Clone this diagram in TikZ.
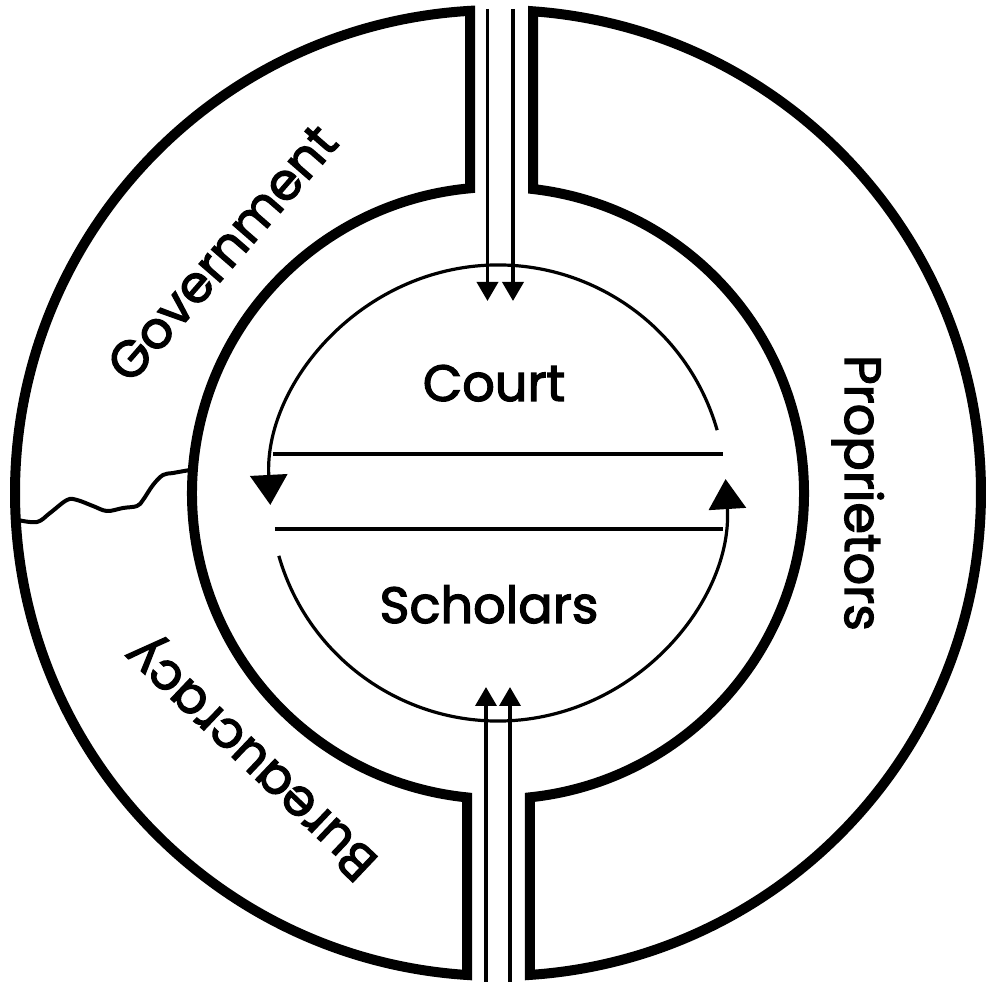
\documentclass[tikz,border=0pt]{standalone}
\usepackage{fontspec}
\setmainfont{Poppins}[FakeBold=2.5]
\usetikzlibrary{arrows.meta}
\begin{document}
\begin{tikzpicture}[x=1pt,y=1pt,
  ring/.style={line width=10pt, line join=miter},
  thinarc/.style={line width=3.2pt},
  flow/.style={line width=3.6pt},
  bighead/.style={-{Triangle[width=37pt,length=30pt]}},
  smallhead/.style={-{Triangle[width=21pt,length=19pt]}},
  lab/.style={font=\fontsize{51}{58}\selectfont, inner sep=0pt}]
\useasboundingbox (-498,-489) rectangle (488,493);
% outer C-shaped regions
\draw[ring] (93.32:483) arc[start angle=93.32, end angle=266.32, radius=483]
  -- (264.19:306) arc[start angle=264.19, end angle=95.25, radius=306] -- cycle;
\draw[ring] (85.84:483) arc[start angle=85.84, end angle=-86.2, radius=483]
  -- (-84:306) arc[start angle=-84, end angle=83.43, radius=306] -- cycle;
% wavy divider
\draw[line width=4pt, line cap=round] plot[smooth, tension=0.6] coordinates {
  (-480,-27) (-461,-29) (-448,-20) (-431,-7) (-421,-7) (-405,-13) (-391,-18)
  (-375,-15) (-361,-13) (-355,-7) (-345,8) (-335,18) (-325,20) (-308,23)};
% inner cycle
\coordinate (ua) at (16:228);
\coordinate (la) at (196:228);
\coordinate (ur) at (225,39);
\coordinate (ul) at (-224.6,39);
\coordinate (ll) at (-223,-36);
\coordinate (lr) at (225.1,-36);
\draw[thinarc, bighead] (ua) arc[start angle=16, end angle=183, radius=228];
\draw[thinarc, bighead] (la) arc[start angle=196, end angle=363.5, radius=228];
\draw[flow] (ur) -- (ul);
\draw[flow] (ll) -- (lr);
% vertical flows
\coordinate (t1s) at (-10.5,484); \coordinate (t1e) at (-10.5,192);
\coordinate (t2s) at (15,484);    \coordinate (t2e) at (15,192);
\coordinate (b1s) at (-12,-489);  \coordinate (b1e) at (-12,-194);
\coordinate (b2s) at (12,-489);   \coordinate (b2e) at (12,-194);
\draw[flow, smallhead] (t1s) -- (t1e);
\draw[flow, smallhead] (t2s) -- (t2e);
\draw[flow, smallhead] (b1s) -- (b1e);
\draw[flow, smallhead] (b2s) -- (b2e);
% labels
\node[lab, anchor=base] (court) at (-4,92) {Court};
\node[lab, anchor=base] (scholars) at (-9,-130) {Scholars};
\node[lab, anchor=base, rotate=-90] (prop) at (347,0) {Proprietors};
\node[lab, rotate=49] (gov) at (-276,240) {Government};
\node[lab, anchor=base, rotate=136.5] (bur) at (-236,-254) {Bureaucracy};
\end{tikzpicture}
\end{document}
